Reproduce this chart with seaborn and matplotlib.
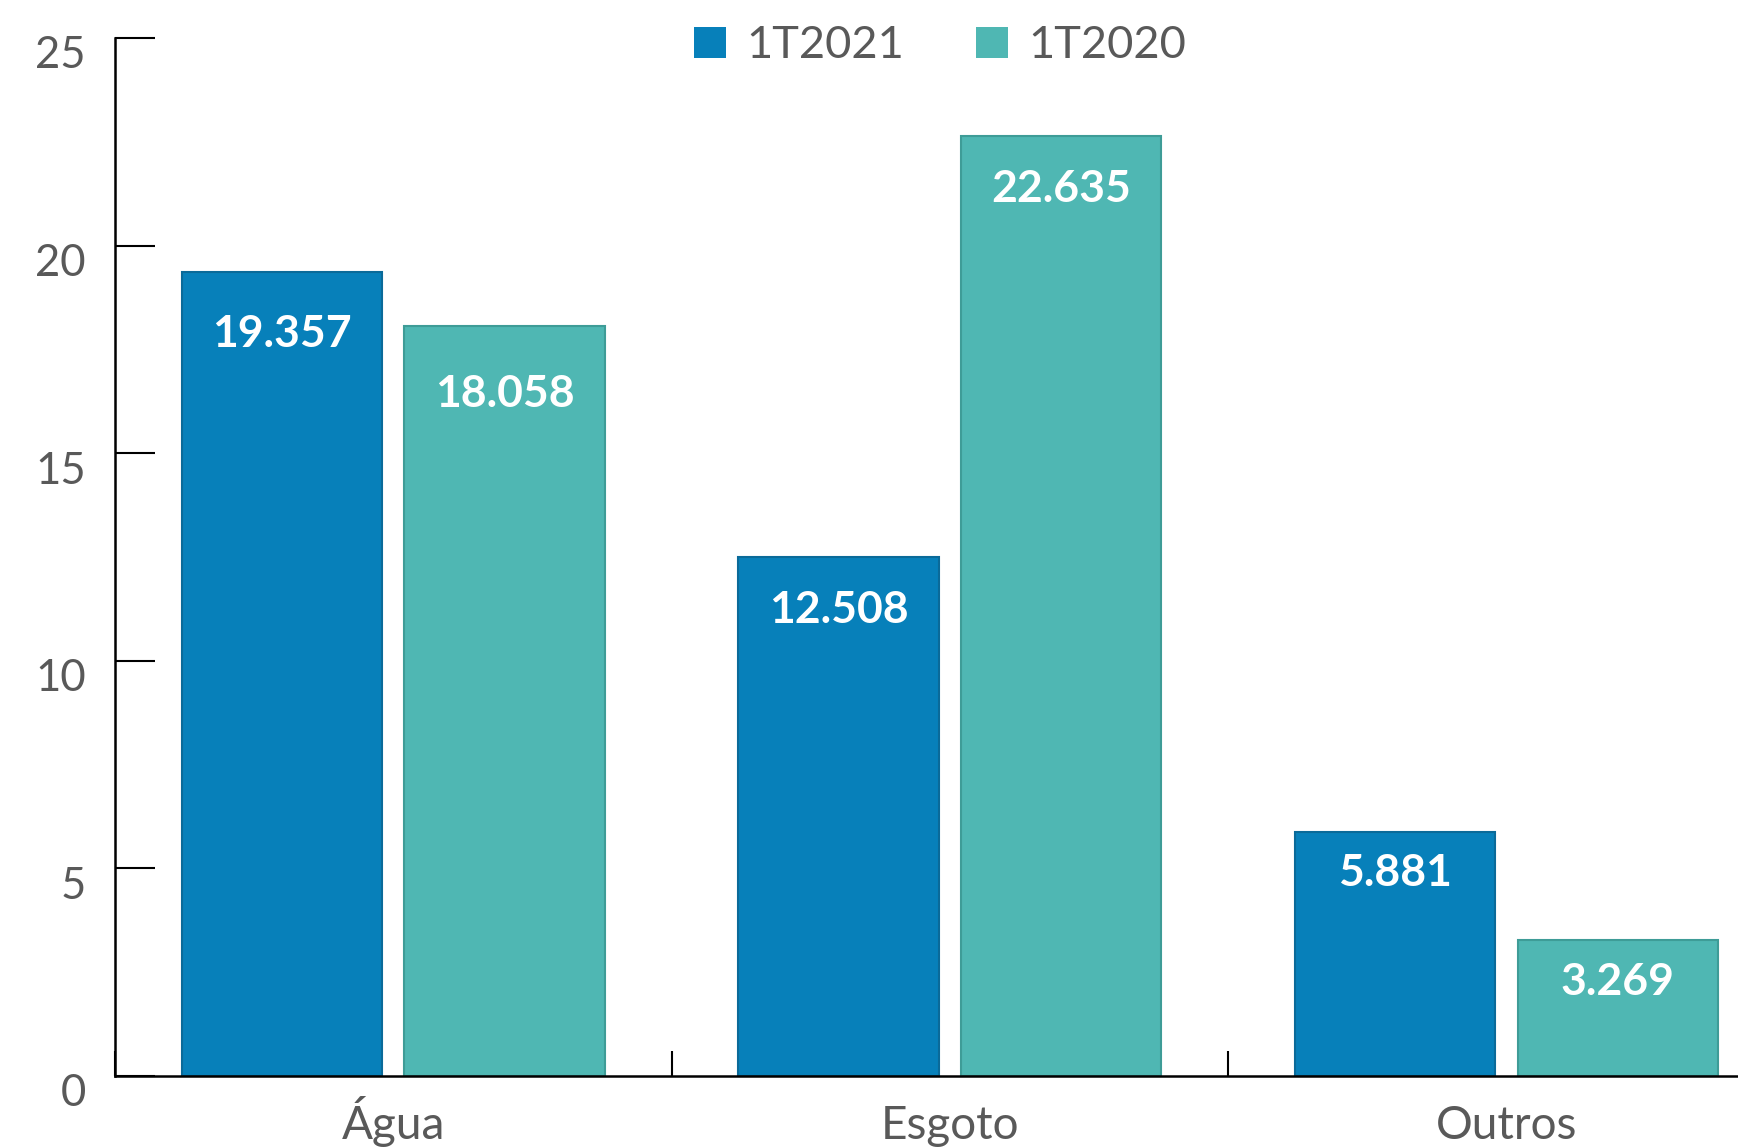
import matplotlib
matplotlib.use("Agg")
import matplotlib.pyplot as plt
import matplotlib.transforms as mtransforms
from matplotlib.ticker import FixedLocator, NullFormatter
import seaborn as sns
import pandas as pd

categories = ["Água", "Esgoto", "Outros"]
series_names = ["1T2021", "1T2020"]
values_2021 = [19.357, 12.508, 5.881]
values_2020 = [18.058, 22.635, 3.269]
y_ticks = [0, 5, 10, 15, 20, 25]

df = pd.DataFrame({
    "categoria": categories * 2,
    "periodo": [series_names[0]] * len(categories) + [series_names[1]] * len(categories),
    "valor": values_2021 + values_2020,
})

sns.set_theme(style="white")
plt.rcParams['font.family'] = ['Lato', 'DejaVu Sans']

text_color = "#595959"
palette = {"1T2021": "#0780BA", "1T2020": "#4FB7B3"}
edges = {"1T2021": "#0A6A99", "1T2020": "#3E9C97"}
# label drop below bar top (points), per series
label_pads = {"1T2021": [59, 52.6, 43.8], "1T2020": [63, 52.6, 44.6]}

fig = plt.figure(figsize=(17.38, 11.48), dpi=100)
ax = fig.add_axes([0.0662, 0.0627, 0.9338, 0.9043])

sns.barplot(data=df, x="categoria", y="valor", hue="periodo",
            order=categories, hue_order=series_names, palette=palette,
            saturation=1, width=0.8, gap=0.1, linewidth=1.5, ax=ax, errorbar=None)

for cont, name in zip(ax.containers, series_names):
    for p, pad in zip(cont, label_pads[name]):
        p.set_edgecolor(edges[name])
        ax.annotate(f"{p.get_height():.3f}",
                    (p.get_x() + p.get_width() / 2, p.get_height()),
                    xytext=(0, -pad), textcoords="offset points",
                    ha="center", va="bottom", color="white",
                    fontsize=32, fontweight="bold")

ax.set_xlim(-0.5, 2.416)
ax.set_ylim(0, 25)
ax.set_xlabel("")
ax.set_ylabel("")

# y axis
ax.set_yticks(y_ticks)
ax.set_yticklabels([str(t) for t in y_ticks])
ax.tick_params(axis="y", direction="in", length=29, width=1.5, color="black",
               pad=21, labelsize=31.5, labelcolor=text_color, left=True)
off = mtransforms.ScaledTranslation(0, -10 / 72, fig.dpi_scale_trans)
for lab in ax.get_yticklabels():
    lab.set_transform(lab.get_transform() + off)

# x axis: boundary ticks (major), labels at centers (minor)
ax.xaxis.set_major_locator(FixedLocator([-0.5, 0.5, 1.5, 2.5]))
ax.xaxis.set_major_formatter(NullFormatter())
ax.xaxis.set_minor_locator(FixedLocator([0, 1, 2]))
ax.set_xticklabels(categories, minor=True)
ax.tick_params(axis="x", which="major", direction="in", length=18, width=1.5,
               color="black", bottom=True)
ax.tick_params(axis="x", which="minor", length=0, pad=45, labelsize=33,
               labelcolor=text_color, bottom=True)
for lab in ax.get_xticklabels(minor=True):
    lab.set_verticalalignment("baseline")

for s in ["top", "right"]:
    ax.spines[s].set_visible(False)
for s in ["left", "bottom"]:
    ax.spines[s].set_color("black")
    ax.spines[s].set_linewidth(1.8)

ax.legend(loc="center", bbox_to_anchor=(0.541, 0.960), bbox_transform=fig.transFigure,
          ncol=2, frameon=False, fontsize=32.5, labelcolor=text_color,
          handlelength=0.7, handleheight=0.7, handletextpad=0.45, columnspacing=1.6,
          title=None)
for h in ax.get_legend().legend_handles:
    h.set_edgecolor("none")

fig.savefig("out.png", dpi=100)
